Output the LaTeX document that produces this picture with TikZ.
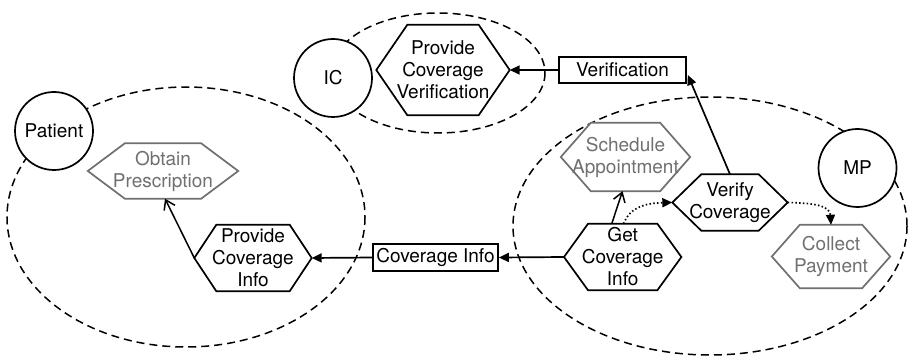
\documentclass[tikz,border=0pt]{standalone}
\usepackage{fontspec}
\setmainfont{TeX Gyre Heros}
\usetikzlibrary{arrows.meta,calc,backgrounds}
\definecolor{grayc}{RGB}{112,112,112}
\newcommand\hexpath[3]{%
  \begin{pgfonlayer}{background}
  \draw[hexline,#3,fill=white] ([xshift=#2]#1.north west) -- ([xshift=-#2]#1.north east) -- (#1.east)
     -- ([xshift=-#2]#1.south east) -- ([xshift=#2]#1.south west) -- (#1.west) -- cycle;
  \end{pgfonlayer}}
\tikzset{
  every node/.style={font=\fontsize{19}{22}\selectfont},
  hexline/.style={line width=1.7pt, line join=miter},
  hex/.style={align=center, inner sep=0pt},
  hexgray/.style={hex, text=grayc},
  actor/.style={circle, draw, line width=1.7pt, fill=white, minimum size=78pt, inner sep=0pt},
  msgbox/.style={draw, line width=1.7pt, fill=white, minimum height=26pt, inner sep=0pt},
  group/.style={draw, line width=1.5pt, dash pattern=on 8pt off 5pt},
  flow/.style={line width=1.7pt, -{Triangle[length=10pt,width=9pt]}},
  dep/.style={line width=1.5pt, -{Straight Barb[length=9pt,width=12pt]}},
  ctrl/.style={line width=1.7pt, dash pattern=on 1.5pt off 2.3pt, -{Triangle[length=10pt,width=9pt]}},
}
\begin{document}
\begin{tikzpicture}[x=1pt,y=-1pt]
\useasboundingbox (0,0) rectangle (909,358);
% groups
\begin{pgfonlayer}{background}
\draw[group] (186,217) ellipse [x radius=179, y radius=130];
\draw[group] (438,73) ellipse [x radius=107, y radius=60];
\draw[group] (710,226) ellipse [x radius=197, y radius=129];
\end{pgfonlayer}
% actors
\node[actor] (patient) at (54,131) {Patient};
\node[actor] (ic) at (333,78) {IC};
\node[actor] (mp) at (857.5,168) {MP};
% hexagons
\node[hexgray, minimum width=150pt, minimum height=55pt] (op) at (163,171) {Obtain\\Prescription};
\hexpath{op}{37pt}{draw=grayc}
\node[hex, minimum width=117pt, minimum height=66pt] (pci) at (253,258) {Provide\\Coverage\\Info};
\hexpath{pci}{22pt}{draw=black}
\node[hex, minimum width=133pt, minimum height=90pt] (pcv) at (443,70) {Provide\\Coverage\\Verification};
\hexpath{pcv}{31pt}{draw=black}
\node[hex, minimum width=117pt, minimum height=66pt] (gci) at (622.7,257) {Get\\Coverage\\Info};
\hexpath{gci}{24pt}{draw=black}
\node[hex, minimum width=115pt, minimum height=56pt] (vc) at (730,202.5) {Verify\\Coverage};
\hexpath{vc}{29pt}{draw=black}
\node[hexgray, minimum width=129pt, minimum height=68pt] (sa) at (625.5,157) {Schedule\\Appointment};
\hexpath{sa}{30pt}{draw=grayc}
\node[hexgray, minimum width=118pt, minimum height=63pt] (cp) at (831,256.5) {Collect\\Payment};
\hexpath{cp}{28pt}{draw=grayc}
% messages
\node[msgbox, minimum width=125pt, minimum height=27pt] (ci) at (435.5,257.5) {Coverage Info};
\node[msgbox, minimum width=127pt] (ver) at (622.5,70) {Verification};
% connectors
\draw[flow] (gci.west) -- (ci.east);
\draw[flow] (ci.west) -- (pci.east);
\draw[flow] (ver.west) -- (pcv.east);
\draw[flow] (vc.north) -- ($(ver.east)+(1,5)$);
\draw[dep] (pci.west) -- ([xshift=2pt]op.south);
\draw[dep] ([xshift=-11pt]gci.north) -- ([xshift=-3pt]sa.south);
\draw[ctrl] ([xshift=1pt]gci.north) .. controls (630,206) and (648,203) .. (vc.west);
\draw[ctrl] (vc.east) .. controls (815,203) and (830,206) .. (cp.north);
\end{tikzpicture}
\end{document}
